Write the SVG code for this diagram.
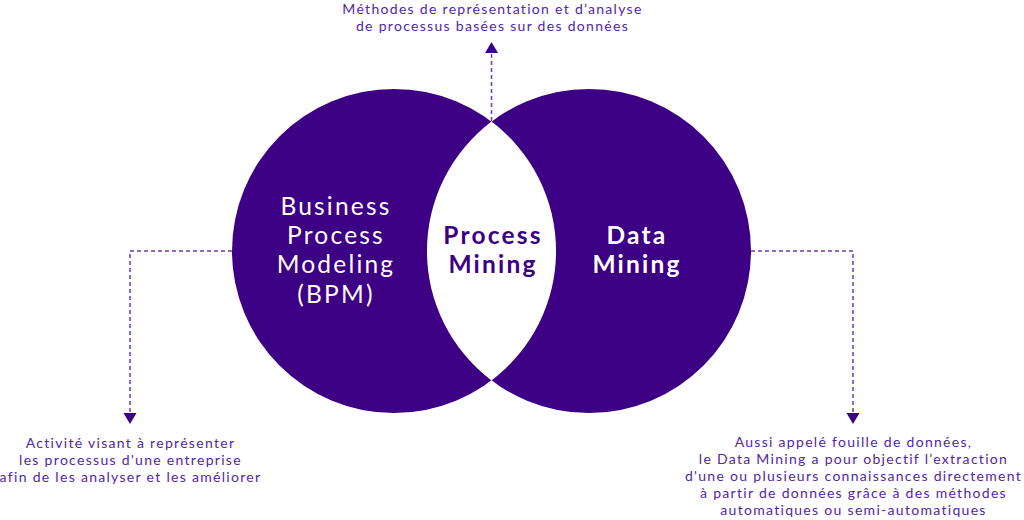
<svg xmlns="http://www.w3.org/2000/svg" width="1024" height="520" viewBox="0 0 1024 520">
<defs>
<style>
.note{font-family:Lato,"Noto Sans","Liberation Sans",sans-serif;font-size:14px;letter-spacing:1.3px;fill:#5127a8;text-anchor:middle}
.big{font-family:Lato,"Noto Sans","Liberation Sans",sans-serif;font-size:24.5px;letter-spacing:2.2px;text-anchor:middle}
.conn{fill:none;stroke:#6a3bb8;stroke-width:1.5;stroke-dasharray:4 3}
.head{fill:#3d0085}
</style>
</defs>
<rect width="1024" height="520" fill="#ffffff"/>
<g id="bpm">
<circle cx="394" cy="251" r="162" fill="#3d0085"/>
<text class="big" fill="#ffffff" x="336" y="215">Business</text>
<text class="big" fill="#ffffff" x="336" y="244">Process</text>
<text class="big" fill="#ffffff" x="336" y="273">Modeling</text>
<text class="big" fill="#ffffff" x="336" y="303">(BPM)</text>
</g>
<g id="data-mining">
<circle cx="589" cy="251" r="162" fill="#3d0085"/>
<text class="big" fill="#ffffff" font-weight="700" x="637" y="244">Data</text>
<text class="big" fill="#ffffff" font-weight="700" x="637" y="273">Mining</text>
</g>
<g id="process-mining">
<path d="M491.5 121.6 A162 162 0 0 1 491.5 380.4 A162 162 0 0 1 491.5 121.6 Z" fill="#ffffff"/>
<text class="big" fill="#3d0085" font-weight="700" x="493" y="244">Process</text>
<text class="big" fill="#3d0085" font-weight="700" x="493" y="273">Mining</text>
</g>
<g id="connectors">
<path class="conn" d="M491.5 121 V53"/>
<polygon class="head" points="491.5,42 485,53 498,53"/>
<path class="conn" d="M232 251 H130 V413"/>
<polygon class="head" points="130,424 123.5,413 136.5,413"/>
<path class="conn" d="M751 251 H853 V413"/>
<polygon class="head" points="853,424 846.5,413 859.5,413"/>
</g>
<g id="note-top">
<text class="note" x="492.5" y="14">Méthodes de représentation et d’analyse</text>
<text class="note" x="492.5" y="30.5">de processus basées sur des données</text>
</g>
<g id="note-left">
<text class="note" x="130.5" y="448">Activité visant à représenter</text>
<text class="note" x="130.5" y="465">les processus d'une entreprise</text>
<text class="note" x="130.5" y="482">afin de les analyser et les améliorer</text>
</g>
<g id="note-right">
<text class="note" x="853.5" y="447">Aussi appelé fouille de données,</text>
<text class="note" x="853.5" y="464">le Data Mining a pour objectif l’extraction</text>
<text class="note" x="853.5" y="481">d'une ou plusieurs connaissances directement</text>
<text class="note" x="853.5" y="498">à partir de données grâce à des méthodes</text>
<text class="note" x="853.5" y="515">automatiques ou semi-automatiques</text>
</g>
</svg>
